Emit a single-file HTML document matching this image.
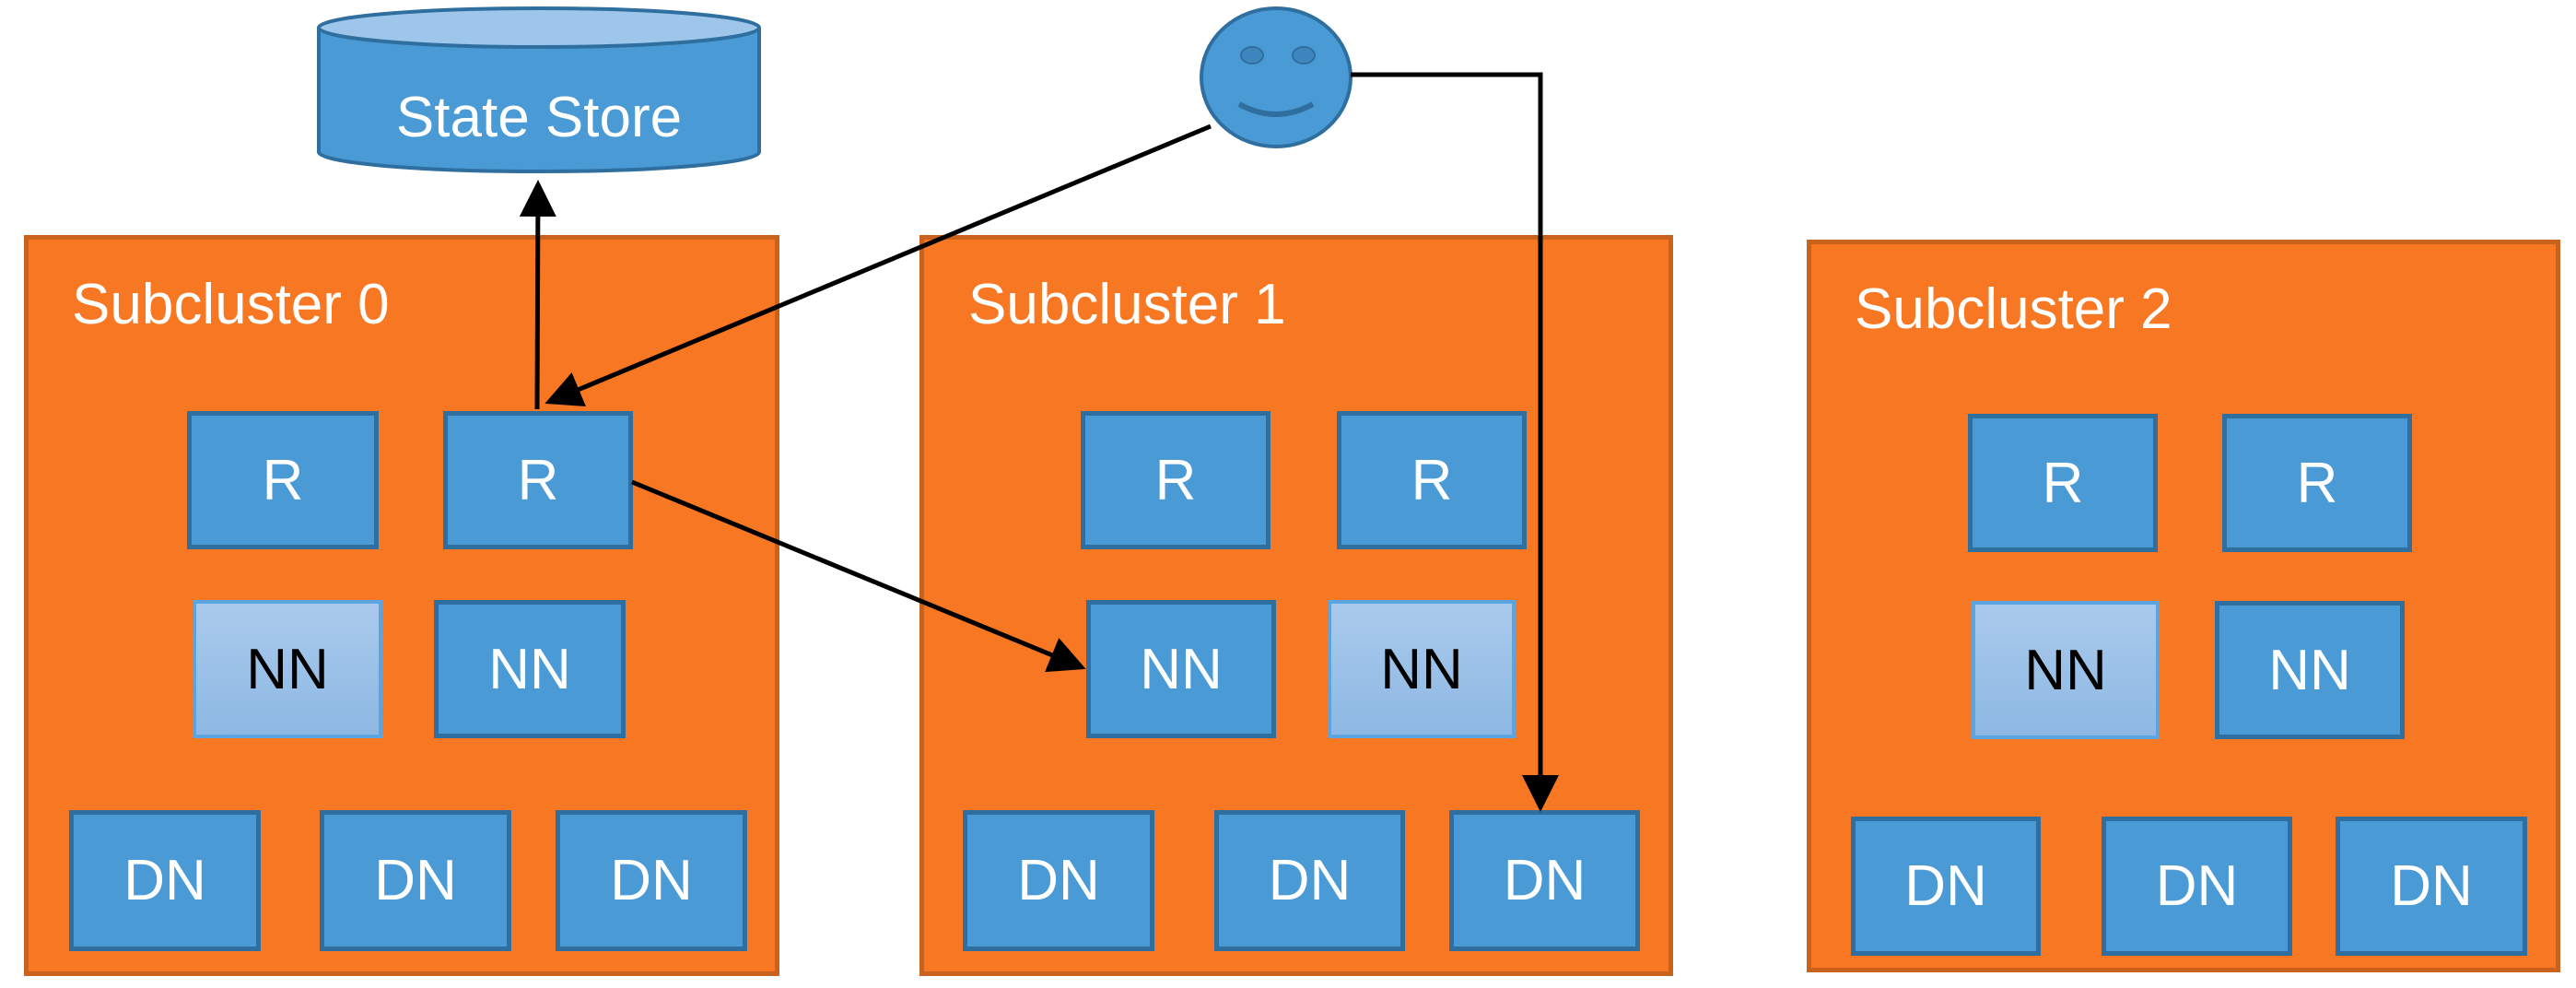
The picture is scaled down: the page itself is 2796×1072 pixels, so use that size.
<!DOCTYPE html>
<html><head><meta charset="utf-8"><style>
html,body{margin:0;padding:0;background:#fff;}
body{width:2796px;height:1072px;position:relative;overflow:hidden;font-family:"Liberation Sans",sans-serif;}
.sc{position:absolute;background:#F87722;border:5px solid #C9621C;box-sizing:border-box;}
.lbl{position:absolute;color:#fff;font-size:62px;}
.b{position:absolute;background:#4A9AD6;border:5px solid #2F6F9F;box-sizing:border-box;color:#fff;font-size:62px;display:flex;align-items:center;justify-content:center;}
.l{background:linear-gradient(#AACAEC,#8DB8E3);border:4px solid #5AA4E2;color:#000;}
</style></head><body>
<div class="sc" style="left:26px;top:255px;width:820px;height:804px"></div>
<div class="sc" style="left:998px;top:255px;width:818px;height:804px"></div>
<div class="sc" style="left:1961px;top:260px;width:818px;height:795px"></div>
<div class="lbl" style="left:78px;top:295px">Subcluster 0</div>
<div class="lbl" style="left:1051px;top:295px">Subcluster 1</div>
<div class="lbl" style="left:2013px;top:300px">Subcluster 2</div>

<div class="b" style="left:203px;top:446px;width:208px;height:150px">R</div>
<div class="b" style="left:481px;top:446px;width:206px;height:150px">R</div>
<div class="b l" style="left:209px;top:651px;width:206px;height:150px">NN</div>
<div class="b" style="left:471px;top:651px;width:208px;height:150px">NN</div>
<div class="b" style="left:75px;top:879px;width:208px;height:153px">DN</div>
<div class="b" style="left:347px;top:879px;width:208px;height:153px">DN</div>
<div class="b" style="left:603px;top:879px;width:208px;height:153px">DN</div>

<div class="b" style="left:1173px;top:446px;width:206px;height:150px">R</div>
<div class="b" style="left:1451px;top:446px;width:206px;height:150px">R</div>
<div class="b" style="left:1179px;top:651px;width:206px;height:150px">NN</div>
<div class="b l" style="left:1441px;top:651px;width:204px;height:150px">NN</div>
<div class="b" style="left:1045px;top:879px;width:208px;height:153px">DN</div>
<div class="b" style="left:1318px;top:879px;width:207px;height:153px">DN</div>
<div class="b" style="left:1573px;top:879px;width:207px;height:153px">DN</div>

<div class="b" style="left:2136px;top:449px;width:206px;height:150px">R</div>
<div class="b" style="left:2412px;top:449px;width:206px;height:150px">R</div>
<div class="b l" style="left:2140px;top:652px;width:204px;height:150px">NN</div>
<div class="b" style="left:2404px;top:652px;width:206px;height:150px">NN</div>
<div class="b" style="left:2009px;top:886px;width:206px;height:151px">DN</div>
<div class="b" style="left:2281px;top:886px;width:207px;height:151px">DN</div>
<div class="b" style="left:2535px;top:886px;width:208px;height:151px">DN</div>

<svg width="2796" height="1072" style="position:absolute;left:0;top:0">
<defs><marker id="a" markerWidth="8" markerHeight="8" refX="7" refY="4" orient="auto" markerUnits="strokeWidth"><path d="M0,0 L8,4 L0,8z" fill="#000"/></marker></defs>
<path d="M346,30 L346,165 A239,21 0 0 0 824,165 L824,30" fill="#4A9AD6" stroke="#2F6F9F" stroke-width="4"/>
<ellipse cx="585" cy="30" rx="239" ry="21" fill="#9DC6EA" stroke="#2F6F9F" stroke-width="4"/>
<text x="585" y="148" fill="#fff" font-size="62" text-anchor="middle" font-family="Liberation Sans,sans-serif">State Store</text>
<ellipse cx="1385" cy="84" rx="81" ry="75" fill="#4A9AD6" stroke="#2F6F9F" stroke-width="4"/>
<ellipse cx="1359" cy="60" rx="12" ry="9" fill="#3E86BE" stroke="#2F6F9F" stroke-width="2"/>
<ellipse cx="1415" cy="60" rx="12" ry="9" fill="#3E86BE" stroke="#2F6F9F" stroke-width="2"/>
<path d="M1345,113 Q1385,135 1425,113" fill="none" stroke="#2F6F9F" stroke-width="6"/>
<g stroke="#000" stroke-width="5" fill="none">
<line x1="583" y1="444" x2="584" y2="200" marker-end="url(#a)"/>
<line x1="1314" y1="137" x2="596" y2="436" marker-end="url(#a)"/>
<line x1="686" y1="523" x2="1174" y2="724" marker-end="url(#a)"/>
<polyline points="1466,81 1672,81 1672,876" marker-end="url(#a)"/>
</g>
</svg>
</body></html>
